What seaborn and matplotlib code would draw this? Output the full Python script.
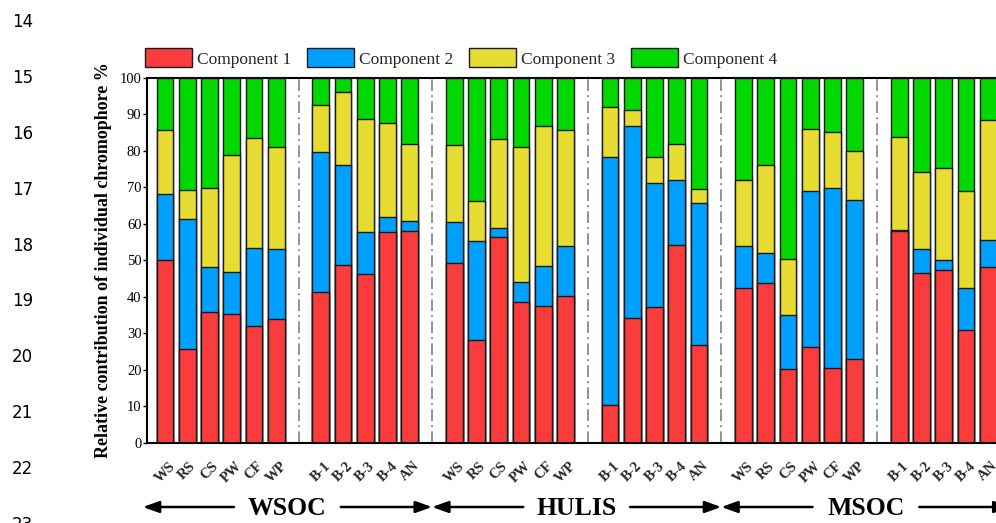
import numpy as np
import pandas as pd
import matplotlib
matplotlib.use("Agg")
import matplotlib.pyplot as plt
import seaborn as sns
from matplotlib.patches import Patch
from matplotlib.transforms import blended_transform_factory

# ---------------- data ----------------
groups = ["WSOC", "HULIS", "MSOC"]
samples = ["WS", "RS", "CS", "PW", "CF", "WP", "B-1", "B-2", "B-3", "B-4", "AN"]
components = ["Component 1", "Component 2", "Component 3", "Component 4"]

# values (%) per bar, WSOC bars then HULIS bars then MSOC bars
comp1 = [50.1, 25.8, 35.7, 35.3, 32.0, 34.0, 41.4, 48.6, 46.1, 57.7, 58.1,
         49.1, 28.2, 56.3, 38.6, 37.5, 40.3, 10.4, 34.2, 37.3, 54.2, 26.9,
         42.5, 43.7, 20.3, 26.1, 20.6, 22.9, 58.0, 46.5, 47.4, 31.0, 48.2]
comp2 = [17.9, 35.6, 12.4, 11.5, 21.4, 19.0, 38.3, 27.5, 11.7, 4.0, 2.6,
         11.4, 27.1, 2.5, 5.5, 10.8, 13.5, 68.0, 52.7, 33.9, 17.7, 38.7,
         11.3, 8.4, 14.6, 42.8, 49.1, 43.5, 0.2, 6.7, 2.6, 11.3, 7.3]
comp3 = [17.6, 7.9, 21.7, 32.1, 30.2, 28.1, 12.9, 20.0, 30.8, 25.9, 21.0,
         21.0, 11.0, 24.5, 36.8, 38.5, 32.0, 13.7, 4.2, 7.1, 9.9, 3.9,
         18.1, 24.0, 15.5, 17.1, 15.5, 13.4, 25.5, 21.0, 25.3, 26.7, 32.9]
comp4 = [14.4, 30.7, 30.2, 21.1, 16.4, 18.9, 7.4, 3.9, 11.4, 12.4, 18.3,
         18.5, 33.7, 16.7, 19.1, 13.2, 14.2, 7.9, 8.9, 21.7, 18.2, 30.5,
         28.1, 23.9, 49.6, 14.0, 14.8, 20.2, 16.3, 25.8, 24.7, 31.0, 11.6]

colors = ["#FA3C3C", "#00A0FF", "#E6DC32", "#00D800"]
line_numbers = list(range(14, 24))

# ---------------- layout ----------------
W, H, DPI = 996, 523, 100
GROUP_STEP = 13  # 11 bars + 2 spacer slots per group

rows = []
for g, grp in enumerate(groups):
    for i, s in enumerate(samples):
        rows.append({"group": grp, "sample": s,
                     "pos": g * GROUP_STEP + i + (1 if i >= 6 else 0)})
df = pd.DataFrame(rows)
vals = np.array([comp1, comp2, comp3, comp4])
cum = np.cumsum(vals, axis=0)
for k in range(4):
    df[f"cum{k + 1}"] = cum[k]

sns.set_theme(style="ticks")
plt.rcParams["font.family"] = ["Liberation Serif", "DejaVu Serif"]

fig = plt.figure(figsize=(W / DPI, H / DPI), dpi=DPI)
ax = fig.add_axes([147 / W, (H - 442.7) / H, 0.867, 365 / H])

for k in range(3, -1, -1):
    sns.barplot(data=df, x="pos", y=f"cum{k + 1}", native_scale=True,
                color=colors[k], saturation=1, width=0.75,
                edgecolor="#1a1a1a", linewidth=1.0, errorbar=None, ax=ax)

# separators
seps = []
for g in range(len(groups)):
    seps.append(g * GROUP_STEP + 6)
    if g < len(groups) - 1:
        seps.append(g * GROUP_STEP + 12)
ax.vlines(seps, 0, 100, colors="#808080", linewidth=1.2,
          linestyles=[(0, (7, 2.5, 1.2, 2.5))], zorder=0.5)

ax.set_xlim(-0.81, 38.0)
ax.set_ylim(0, 100)
ax.set_yticks(range(0, 101, 10))
ax.set_xticks(df["pos"])
ax.set_xticklabels(df["sample"], rotation=45, ha="center",
                   fontsize=10.5, fontweight="bold")
ax.tick_params(axis="x", length=0, pad=12)
ax.tick_params(axis="y", length=3, width=1, pad=1, labelsize=10.5,
               direction="out", color="black")
for t in ax.get_yticklabels():
    t.set_color("black")
ax.set_xlabel("")
ax.set_ylabel("Relative contribution of individual chromophore %",
              fontsize=13, fontweight="bold", color="black")
ax.yaxis.set_label_coords(-0.040, 0.5)
for sp in ax.spines.values():
    sp.set_linewidth(1.5)
    sp.set_color("black")

# legend
handles = [Patch(facecolor=c, edgecolor="#1a1a1a", linewidth=1.0) for c in colors]
fig.legend(handles, components, loc="center", bbox_to_anchor=(461 / W, 1 - 58 / H),
           ncol=4, frameon=False, fontsize=12.5, handlelength=2.7,
           handleheight=1.27, handletextpad=0.29, columnspacing=0.92)

# group labels with arrows
trans = blended_transform_factory(ax.transData, fig.transFigure)
y_arrow = 1 - 507 / H
y_text = 1 - 515 / H
half_gap = 2.4
for g, grp in enumerate(groups):
    lo = g * GROUP_STEP - 1
    hi = lo + GROUP_STEP
    c = (lo + hi) / 2
    ax.text(c, y_text, grp, transform=trans, clip_on=False,
            ha="center", va="baseline", fontsize=18.5, fontweight="bold", color="black")
    for tail, tip in [(c - half_gap, lo), (c + half_gap, hi)]:
        ax.annotate("", xy=(tip, y_arrow), xytext=(tail, y_arrow),
                    xycoords=("data", "figure fraction"),
                    textcoords=("data", "figure fraction"),
                    annotation_clip=False,
                    arrowprops=dict(arrowstyle="-|>,head_length=0.7,head_width=0.25",
                                    lw=1.8, color="black", mutation_scale=14,
                                    shrinkA=0, shrinkB=0))

# document line numbers
for j, n in enumerate(line_numbers):
    fig.text(12 / W, 1 - (22 + 55.9 * j) / H, str(n), ha="left", va="center",
             fontsize=12, family=["DejaVu Sans"], color="black")

fig.savefig("out.png", dpi=DPI)
